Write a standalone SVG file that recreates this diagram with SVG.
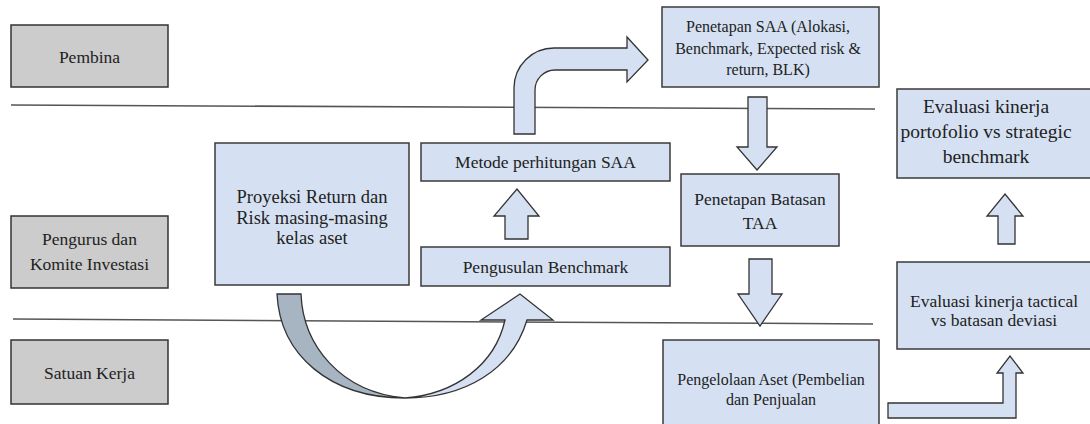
<svg xmlns="http://www.w3.org/2000/svg" width="1090" height="424" viewBox="0 0 1090 424">
<style>
.lane{fill:#cccccc;stroke:#333;stroke-width:1.5}
.box{fill:#d5e1f2;stroke:#3a3a3a;stroke-width:1.5}
.arr{fill:#d5e1f2;stroke:#333;stroke-width:1.3;stroke-linejoin:miter}
.dark{fill:#a7b4c2;stroke:#333;stroke-width:1.3}
.sep{stroke:#555;stroke-width:1.5;fill:none}
text{font-family:"Liberation Serif","Times New Roman",serif;fill:#222;text-anchor:middle;font-size:17.5px}
</style>
<rect width="1090" height="424" fill="#fff"/>
<g id="separators">
<line class="sep" x1="11" y1="105" x2="875" y2="109"/>
<line class="sep" x1="13" y1="319" x2="873" y2="324"/>
</g>
<g id="lane-pembina">
<rect class="lane" x="11" y="25" width="157" height="62"/>
<text x="89.5" y="63">Pembina</text>
</g>
<g id="lane-pengurus">
<rect class="lane" x="11" y="216" width="157" height="72"/>
<text x="89.5" y="245">Pengurus dan</text>
<text x="89.5" y="270">Komite Investasi</text>
</g>
<g id="lane-satuan">
<rect class="lane" x="11" y="340" width="157" height="64"/>
<text x="89.5" y="379">Satuan Kerja</text>
</g>
<g id="connectors">
<path class="arr" d="M514,134 L514,88 A40,40 0 0 1 554,48 L627,48 L627,37 L648,60 L627,82 L627,70 L555,70 A20,20 0 0 0 535,90 L535,134 Z"/>
<path class="arr" d="M748,97 L767,97 L767,147 L777,147 L757,170 L737,147 L748,147 Z"/>
<path class="arr" d="M749,259 L772,259 L772,294 L782,294 L760,326 L738,294 L749,294 Z"/>
<path class="arr" d="M505,239 L505,216 L494,216 L517,189 L539,216 L528,216 L528,239 Z"/>
<path class="arr" d="M998,244 L998,216 L987,216 L1005,194 L1023,216 L1015,216 L1015,244 Z"/>
<path class="arr" d="M888,403 L1003,403 L1003,373 L997,373 L1010,356 L1023,373 L1016,373 L1016,418 L888,418 Z"/>
<path class="dark" d="M277,294 L301,294 C303,345 340,392 405,398 C330,398 280,355 277,294 Z"/>
<path class="arr" d="M405,398 C455,394 495,365 505,320 L481,320 L520,294 L553,320 L527,320 C512,370 465,398 405,398 Z"/>
</g>
<g id="penetapan-saa">
<rect class="box" x="662" y="7" width="217" height="80"/>
<text x="768" y="32" style="font-size:16px">Penetapan SAA (Alokasi,</text>
<text x="768" y="54" style="font-size:16px">Benchmark, Expected risk &amp;</text>
<text x="768" y="75" style="font-size:16px">return, BLK)</text>
</g>
<g id="proyeksi">
<rect class="box" x="215" y="143" width="194" height="142"/>
<text x="312" y="203" style="font-size:18.5px">Proyeksi Return dan</text>
<text x="312" y="224" style="font-size:18.5px">Risk masing-masing</text>
<text x="312" y="244" style="font-size:18.5px">kelas aset</text>
</g>
<g id="metode">
<rect class="box" x="421" y="143" width="249" height="38"/>
<text x="545.5" y="168">Metode perhitungan SAA</text>
</g>
<g id="pengusulan">
<rect class="box" x="421" y="247" width="249" height="39"/>
<text x="545.5" y="272.5">Pengusulan Benchmark</text>
</g>
<g id="batasan-taa">
<rect class="box" x="681" y="174" width="158" height="72"/>
<text x="760" y="205">Penetapan Batasan</text>
<text x="760" y="229">TAA</text>
</g>
<g id="pengelolaan">
<rect class="box" x="663" y="340" width="216" height="90"/>
<text x="771" y="385" style="font-size:16px">Pengelolaan Aset (Pembelian</text>
<text x="771" y="405" style="font-size:16px">dan Penjualan</text>
</g>
<g id="eval-portofolio">
<rect class="box" x="897" y="89" width="200" height="89"/>
<text x="986" y="113" style="font-size:19.5px">Evaluasi kinerja</text>
<text x="986" y="138" style="font-size:19.5px">portofolio vs strategic</text>
<text x="986" y="163" style="font-size:19.5px">benchmark</text>
</g>
<g id="eval-tactical">
<rect class="box" x="897" y="262" width="200" height="87"/>
<text x="994" y="307">Evaluasi kinerja tactical</text>
<text x="994" y="326">vs batasan deviasi</text>
</g>
</svg>
